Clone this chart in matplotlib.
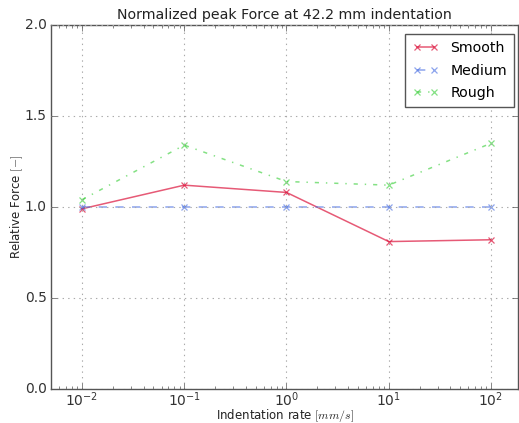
import numpy as np
import matplotlib
matplotlib.use("Agg")
from matplotlib import pyplot as plt

rates = [1e-2, 1e-1, 1e0, 1e1, 1e2]
smooth = [0.99, 1.12, 1.08, 0.81, 0.82]
medium = [1.0, 1.0, 1.0, 1.0, 1.0]
rough = [1.04, 1.34, 1.14, 1.12, 1.35]

plt.style.use('classic')
plt.rcParams['mathtext.fontset'] = 'cm'
plt.rcParams['font.family'] = 'DejaVu Sans'

fig = plt.figure(figsize=(5.19, 4.23), dpi=100, facecolor='white')
ax = fig.add_axes([51 / 519, 1 - 389 / 423, 467 / 519, 364 / 423])

ax.plot(rates, smooth, '-x', color='crimson', alpha=0.7, lw=1.1, mew=0.9, ms=4.5, label='Smooth')
ax.plot(rates, medium, '--x', color='royalblue', alpha=0.6, lw=1.1, mew=0.9, ms=4.5, label='Medium')
ax.plot(rates, rough, '-.x', color='limegreen', alpha=0.6, lw=1.1, mew=0.9, ms=4.5, label='Rough')

ax.set_xscale('log')
ax.set_xlim(10 ** -2.303, 10 ** 2.264)
ax.set_ylim(0, 2)
ax.set_yticks([0.0, 0.5, 1.0, 1.5, 2.0])
ax.grid(True, color='#aaaaaa', linestyle=':', linewidth=0.8)
for s in ax.spines.values():
    s.set_color('#555555')
ax.tick_params(labelsize=10, colors='#333333', pad=3)
ax.tick_params(axis='x', pad=1)
ax.tick_params(which='both', color='#555555')

ax.set_title('Normalized peak Force at 42.2 mm indentation', fontsize=10.2, color='#222222', pad=4)
ax.set_xlabel('Indentation rate $[mm/s]$', fontsize=8.5, color='#222222')
ax.set_ylabel('Relative Force $[-]$', fontsize=8.5, color='#222222')
ax.xaxis.set_label_coords(0.5, -0.05)
ax.yaxis.set_label_coords(-0.056, 0.5)

leg = ax.legend(loc='upper right', bbox_to_anchor=(0.9914, 0.9753), fontsize=10.2,
                numpoints=2, fancybox=False, framealpha=1, handlelength=1.83,
                handletextpad=0.85, labelspacing=0.6, borderaxespad=0, borderpad=0.5)
leg.get_frame().set_edgecolor('#555555')

fig.savefig('out.png', dpi=100, facecolor='white')
